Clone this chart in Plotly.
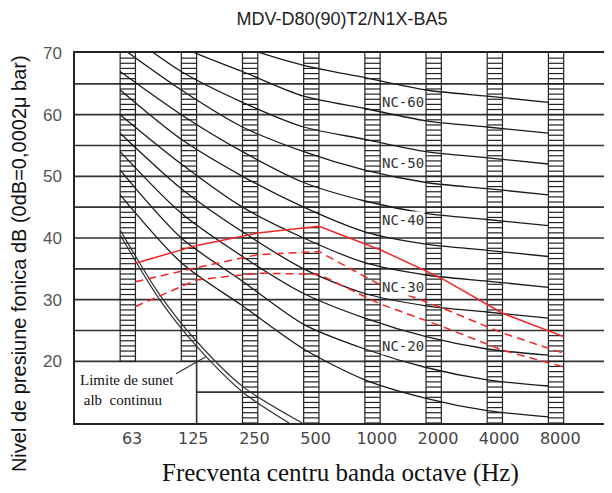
import numpy as np
import plotly.graph_objects as go

# octave bands
bands = ["63", "125", "250", "500", "1000", "2000", "4000", "8000"]
band_hz = [63, 125, 250, 500, 1000, 2000, 4000, 8000]

# NC curves (dB at each octave band)
nc15 = [47, 36, 29, 22, 17, 14, 12, 11]
nc20 = [51, 40, 33, 26, 22, 19, 17, 16]
nc25 = [54, 44, 37, 31, 27, 24, 22, 21]
nc30 = [57, 48, 41, 35, 31, 29, 28, 27]
nc35 = [60, 52, 45, 40, 36, 34, 33, 32]
nc40 = [64, 56, 50, 45, 41, 39, 38, 37]
nc45 = [67, 60, 54, 49, 46, 44, 43, 42]
nc50 = [71, 64, 58, 54, 51, 49, 48, 47]
nc55 = [74, 67, 62, 58, 56, 54, 53, 52]
nc60 = [77, 71, 67, 63, 61, 59, 58, 57]
nc65 = [80, 75, 71, 68, 66, 64, 63, 62]

# measured unit levels
solid_high = [35.9, 38.8, 40.8, 41.9, 38.1, 33.5, 27.8, 24.0]
dash_mid = [32.9, 35.2, 37.3, 37.8, 32.4, 28.7, 24.6, 21.3]
dash_low = [28.9, 33.2, 34.3, 34.1, 29.3, 25.7, 21.8, 19.1]

# continuous white noise limit (Hz, dB)
noise_a_hz = [58, 90, 137, 232, 455]
noise_a_db = [41.2, 30.9, 23.3, 15.9, 10.0]
noise_b_hz = [58, 90, 137, 232, 392]
noise_b_db = [40.4, 30.1, 22.5, 15.0, 10.0]

nc_labels = ["NC-60", "NC-50", "NC-40", "NC-30", "NC-20"]
nc_label_db = [62.1, 52.1, 42.9, 32.1, 22.5]

fig = go.Figure()

idx = np.arange(len(bands))
half = 0.125
grid_col = "#333333"


def to_idx(hz):
    return np.log2(np.array(hz) / 63.0)


# hatched columns
cx, cy = [], []
for i in idx:
    lo = 20 if i < 2 else 10
    l, r = i - half, i + half
    cx += [l, l, None, r, r, None]
    cy += [lo, 70, None, lo, 70, None]
    for h in np.arange(lo, 70, 5 / 6):
        cx += [l, r, None]
        cy += [h, h, None]
fig.add_trace(go.Scatter(x=cx, y=cy, mode="lines", line=dict(color="#222", width=1.2),
                         hoverinfo="skip"))

# NC curves
for vals in [nc15, nc20, nc25, nc30, nc35, nc40, nc45, nc50, nc55, nc60, nc65]:
    fig.add_trace(go.Scatter(x=idx - half, y=vals, mode="lines",
                             line=dict(color="#1a1a1a", width=1.3, shape="spline", smoothing=0.8)))

# white noise
for hz, db in [(noise_a_hz, noise_a_db), (noise_b_hz, noise_b_db)]:
    fig.add_trace(go.Scatter(x=to_idx(hz), y=db, mode="lines",
                             line=dict(color="#333", width=1.2, shape="spline", smoothing=0.8)))

# unit measurements
fig.add_trace(go.Scatter(x=idx + half, y=solid_high, mode="lines",
                         line=dict(color="#f52525", width=1.5)))
fig.add_trace(go.Scatter(x=idx + half, y=dash_mid, mode="lines",
                         line=dict(color="#f52525", width=1.5, dash="8px,5px")))
fig.add_trace(go.Scatter(x=idx + half, y=dash_low, mode="lines",
                         line=dict(color="#f52525", width=1.5, dash="8px,5px")))

# grid lines
shapes = []
for g in range(15, 70, 5):
    x0 = 1 + half if g == 15 else -0.9
    shapes.append(dict(type="line", xref="x", yref="y", x0=x0, x1=8, y0=g, y1=g,
                       line=dict(color=grid_col, width=1.6), layer="below"))
shapes.append(dict(type="line", xref="x", yref="y", x0=1 + half, x1=1 + half, y0=10, y1=20,
                   line=dict(color=grid_col, width=1.6)))
# pointer to the noise curve
shapes.append(dict(type="line", xref="x", yref="y", x0=0.79, x1=1.28, y0=18.0, y1=20.8,
                   line=dict(color="#333", width=1.2)))
fig.update_layout(shapes=shapes)

annotations = []
for t, v in zip(nc_labels, nc_label_db):
    annotations.append(dict(x=4.14, y=v, xref="x", yref="y", text=t, showarrow=False,
                            xanchor="left", yanchor="middle", bgcolor="white", borderpad=0,
                            font=dict(family="DejaVu Sans Mono", size=14, color="#333")))
annotations.append(dict(x=-0.81, y=15.3, xref="x", yref="y",
                        text="Limite de sunet<br>&nbsp;alb&nbsp; continuu", showarrow=False,
                        xanchor="left", yanchor="middle", align="left",
                        font=dict(family="Liberation Serif", size=15, color="#111")))
# axis titles
annotations.append(dict(x=0.498, y=-0.135, xref="paper", yref="paper",
                        text="Frecventa centru banda octave (Hz)", showarrow=False,
                        xanchor="center", yanchor="middle",
                        font=dict(family="Liberation Serif", size=25, color="#111")))
annotations.append(dict(x=-0.105, y=0.432, xref="paper", yref="paper", textangle=-90,
                        text="Nivel de presiune fonica dB (0dB=0,0002\u03bc bar)", showarrow=False,
                        xanchor="center", yanchor="middle",
                        font=dict(family="Liberation Sans", size=20, color="#111")))
fig.update_layout(annotations=annotations)

fig.update_layout(
    width=604, height=485,
    margin=dict(l=67, r=1, t=45, b=70),
    paper_bgcolor="white", plot_bgcolor="white",
    showlegend=False,
    title=dict(text="MDV-D80(90)T2/N1X-BA5", x=0.553, xanchor="center", y=0.978, yanchor="middle",
               font=dict(family="Liberation Sans", size=18, color="#222")),
    font=dict(family="Liberation Sans"),
)
fig.update_xaxes(range=[-0.863, 7.866], tickvals=idx + 0.07, ticktext=bands, showgrid=False,
                 zeroline=False, showline=True, linecolor="#222", linewidth=1.5, mirror=True,
                 ticks="", tickfont=dict(family="DejaVu Sans", size=16, color="#444"))
fig.update_yaxes(range=[10, 70], tickvals=[20, 30, 40, 50, 60, 70], showgrid=False,
                 zeroline=False, showline=True, linecolor="#222", linewidth=1.5, mirror=True,
                 ticks="", tickfont=dict(family="Liberation Sans", size=17, color="#555"),
                 ticklabelstandoff=8)

fig.write_html("out.html")
